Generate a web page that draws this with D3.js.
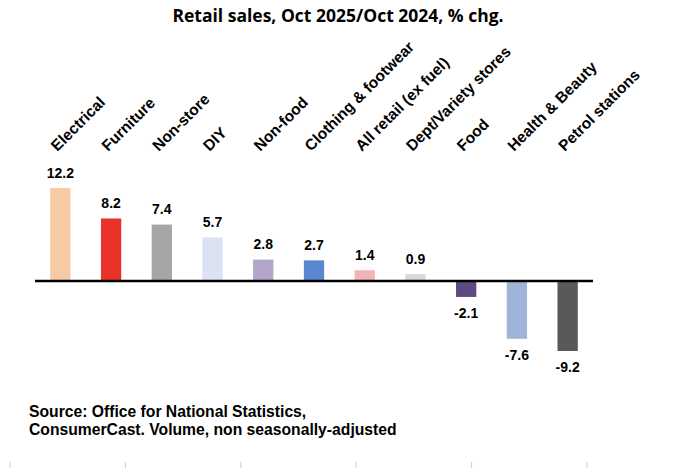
<!DOCTYPE html>
<html>
<head>
<meta charset="utf-8">
<script src="https://cdn.jsdelivr.net/npm/d3@7"></script>
<style>
  body { margin: 0; background: #fff; }
  svg text { font-family: "Liberation Sans", Arial, sans-serif; }
</style>
</head>
<body>
<div id="chart"></div>
<script>
// Retail sales by sector, Oct 2025 vs Oct 2024 (% change)
var categories = ['Electrical', 'Furniture', 'Non-store', 'DIY', 'Non-food',
  'Clothing & footwear', 'All retail (ex fuel)', 'Dept/Variety stores',
  'Food', 'Health & Beauty', 'Petrol stations'];
var changes = [12.2, 8.2, 7.4, 5.7, 2.8, 2.7, 1.4, 0.9, -2.1, -7.6, -9.2];
var barColors = ['#f5cba5', '#e8332a', '#a6a6a6', '#dbe3f3', '#b3a6ca',
  '#5b87d0', '#f4b3b9', '#d9d9d9', '#5c4a80', '#9eb4d9', '#595959'];
var sourceLines = ['Source: Office for National Statistics,',
  'ConsumerCast. Volume, non seasonally-adjusted'];
var bottomTicks = [0, 1, 2, 3, 4, 5];

var width = 680, height = 468;

var svg = d3.select('#chart').append('svg')
  .attr('width', width)
  .attr('height', height);

var x = d3.scaleBand()
  .domain(categories)
  .range([35, 593])
  .paddingInner(0.6)
  .paddingOuter(0.3);

var y = d3.scaleLinear()
  .domain([-9.2, 12.2])
  .range([351, 188]);

// title
svg.append('text')
  .attr('x', 338)
  .attr('y', 22)
  .attr('text-anchor', 'middle')
  .style('font-family', '"Open Sans", sans-serif')
  .style('font-weight', 'bold')
  .style('font-size', '17.5px')
  .text('Retail sales, Oct 2025/Oct 2024, % chg.');

// bars
svg.selectAll('rect.bar')
  .data(changes)
  .enter().append('rect')
  .attr('class', 'bar')
  .attr('x', function(d, i) { return x(categories[i]); })
  .attr('y', function(d) { return y(Math.max(0, d)); })
  .attr('width', x.bandwidth())
  .attr('height', function(d) { return Math.abs(y(d) - y(0)); })
  .attr('fill', function(d, i) { return barColors[i]; });

// zero line
svg.append('line')
  .attr('x1', x.range()[0])
  .attr('x2', x.range()[1])
  .attr('y1', y(0))
  .attr('y2', y(0))
  .attr('stroke', '#000')
  .attr('stroke-width', 2.5);

// value labels
svg.selectAll('text.val')
  .data(changes)
  .enter().append('text')
  .attr('class', 'val')
  .attr('x', function(d, i) { return x(categories[i]) + x.bandwidth() / 2; })
  .attr('y', function(d) { return d >= 0 ? y(d) - 10.5 : y(d) + 21; })
  .attr('text-anchor', 'middle')
  .style('font-weight', 'bold')
  .style('font-size', '14px')
  .text(function(d) { return d.toFixed(1); });

// category labels, rotated
svg.selectAll('text.cat')
  .data(categories)
  .enter().append('text')
  .attr('class', 'cat')
  .attr('transform', function(d) {
    return 'translate(' + (x(d) + x.bandwidth() / 2 - 3) + ',152) rotate(-45)';
  })
  .style('font-weight', 'bold')
  .style('font-size', '15.5px')
  .text(function(d) { return d; });

// source note
svg.selectAll('text.src')
  .data(sourceLines)
  .enter().append('text')
  .attr('class', 'src')
  .attr('x', 29)
  .attr('y', function(d, i) { return 417 + i * 18; })
  .style('font-weight', 'bold')
  .style('font-size', '15.7px')
  .text(function(d) { return d; });

// faint ticks along the bottom edge
var tx = d3.scaleLinear().domain([0, 5]).range([10, 587]);
svg.selectAll('line.tick')
  .data(bottomTicks)
  .enter().append('line')
  .attr('class', 'tick')
  .attr('x1', function(d) { return tx(d); })
  .attr('x2', function(d) { return tx(d); })
  .attr('y1', 462)
  .attr('y2', 468)
  .attr('stroke', '#ccc')
  .attr('stroke-width', 1);
</script>
</body>
</html>
